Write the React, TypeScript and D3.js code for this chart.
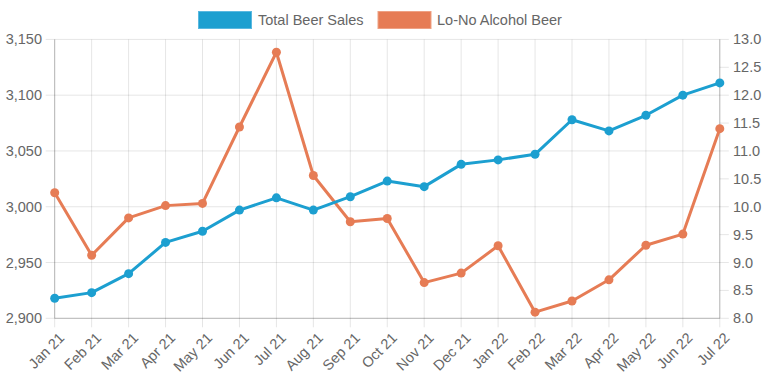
import React from "react";
import * as d3 from "d3";

const months = ["Jan 21","Feb 21","Mar 21","Apr 21","May 21","Jun 21","Jul 21","Aug 21","Sep 21","Oct 21","Nov 21","Dec 21","Jan 22","Feb 22","Mar 22","Apr 22","May 22","Jun 22","Jul 22"];
const totalBeerSales = [2918,2923,2940,2968,2978,2997,3008,2997,3009,3023,3018,3038,3042,3047,3078,3068,3082,3100,3111];
const loNoAlcohol = [10.25,9.13,9.8,10.02,10.06,11.43,12.77,10.56,9.73,9.79,8.64,8.81,9.3,8.11,8.31,8.69,9.31,9.51,11.4];
const leftTicks = [2900,2950,3000,3050,3100,3150];
const rightTicks = [8,8.5,9,9.5,10,10.5,11,11.5,12,12.5,13];
const seriesNames = ["Total Beer Sales","Lo-No Alcohol Beer"];
const colors = ["#1c9fd0","#e67c55"];

const W = 767, H = 383;
const left = 54.7, right = 719.8, top = 39.4, bottom = 318.3;
const font = "'Liberation Sans', Arial, Helvetica, sans-serif";
const fs = 14.5;

export default function App() {
  const x = d3.scalePoint<string>().domain(months).range([left, right]);
  const yL = d3.scaleLinear().domain([2900, 3150]).range([bottom, top]);
  const yR = d3.scaleLinear().domain([8, 13]).range([bottom, top]);
  const lineL = d3.line<number>().x((_, i) => x(months[i])!).y(d => yL(d));
  const lineR = d3.line<number>().x((_, i) => x(months[i])!).y(d => yR(d));
  const grid = "rgba(0,0,0,0.1)";
  const axisC = "rgba(0,0,0,0.22)";
  const txt = "#666";
  const fmt = d3.format(",");

  return (
    <svg width={W} height={H} style={{ position: "absolute", left: 0, top: 0, background: "#fff" }} fontFamily={font}>
      {leftTicks.map(t => (
        <line key={"h" + t} x1={left - 9} x2={right} y1={yL(t)} y2={yL(t)} stroke={grid} strokeWidth={1} />
      ))}
      {months.map(m => (
        <line key={"v" + m} x1={x(m)} x2={x(m)} y1={top} y2={bottom + 9} stroke={grid} strokeWidth={1} />
      ))}
      <line x1={left} x2={left} y1={top} y2={bottom} stroke={axisC} />
      <line x1={right} x2={right} y1={top} y2={bottom} stroke={axisC} />
      <line x1={left} x2={right} y1={bottom} y2={bottom} stroke={axisC} />
      {rightTicks.map(t => (
        <line key={"rt" + t} x1={right} x2={right + 9} y1={yR(t)} y2={yR(t)} stroke={grid} />
      ))}
      {leftTicks.map(t => (
        <text key={"lt" + t} x={42} y={yL(t)} dy="0.35em" textAnchor="end" fontSize={fs} fill={txt}>{fmt(t)}</text>
      ))}
      {rightTicks.map(t => (
        <text key={"rl" + t} x={733} y={yR(t)} dy="0.35em" textAnchor="start" fontSize={fs} fill={txt}>{t.toFixed(1)}</text>
      ))}
      {months.map(m => (
        <text key={"xl" + m} transform={`translate(${x(m)! + 7},${bottom + 17}) rotate(-45)`} dy="0.35em" textAnchor="end" fontSize={fs} fill={txt}>{m}</text>
      ))}
      <path d={lineR(loNoAlcohol)!} fill="none" stroke={colors[1]} strokeWidth={3} strokeLinejoin="round" />
      {loNoAlcohol.map((v, i) => (
        <circle key={"o" + i} cx={x(months[i])} cy={yR(v)} r={4.5} fill={colors[1]} />
      ))}
      <path d={lineL(totalBeerSales)!} fill="none" stroke={colors[0]} strokeWidth={3} strokeLinejoin="round" />
      {totalBeerSales.map((v, i) => (
        <circle key={"b" + i} cx={x(months[i])} cy={yL(v)} r={4.5} fill={colors[0]} />
      ))}
      <rect x={198.5} y={11.5} width={53} height={17} fill={colors[0]} stroke="#5ab8e0" strokeWidth={1} />
      <text x={258} y={20} dy="0.35em" fontSize={fs} fill={txt}>{seriesNames[0]}</text>
      <rect x={378} y={11.5} width={53} height={17} fill={colors[1]} stroke="#eea184" strokeWidth={1} />
      <text x={437} y={20} dy="0.35em" fontSize={fs} fill={txt}>{seriesNames[1]}</text>
    </svg>
  );
}
